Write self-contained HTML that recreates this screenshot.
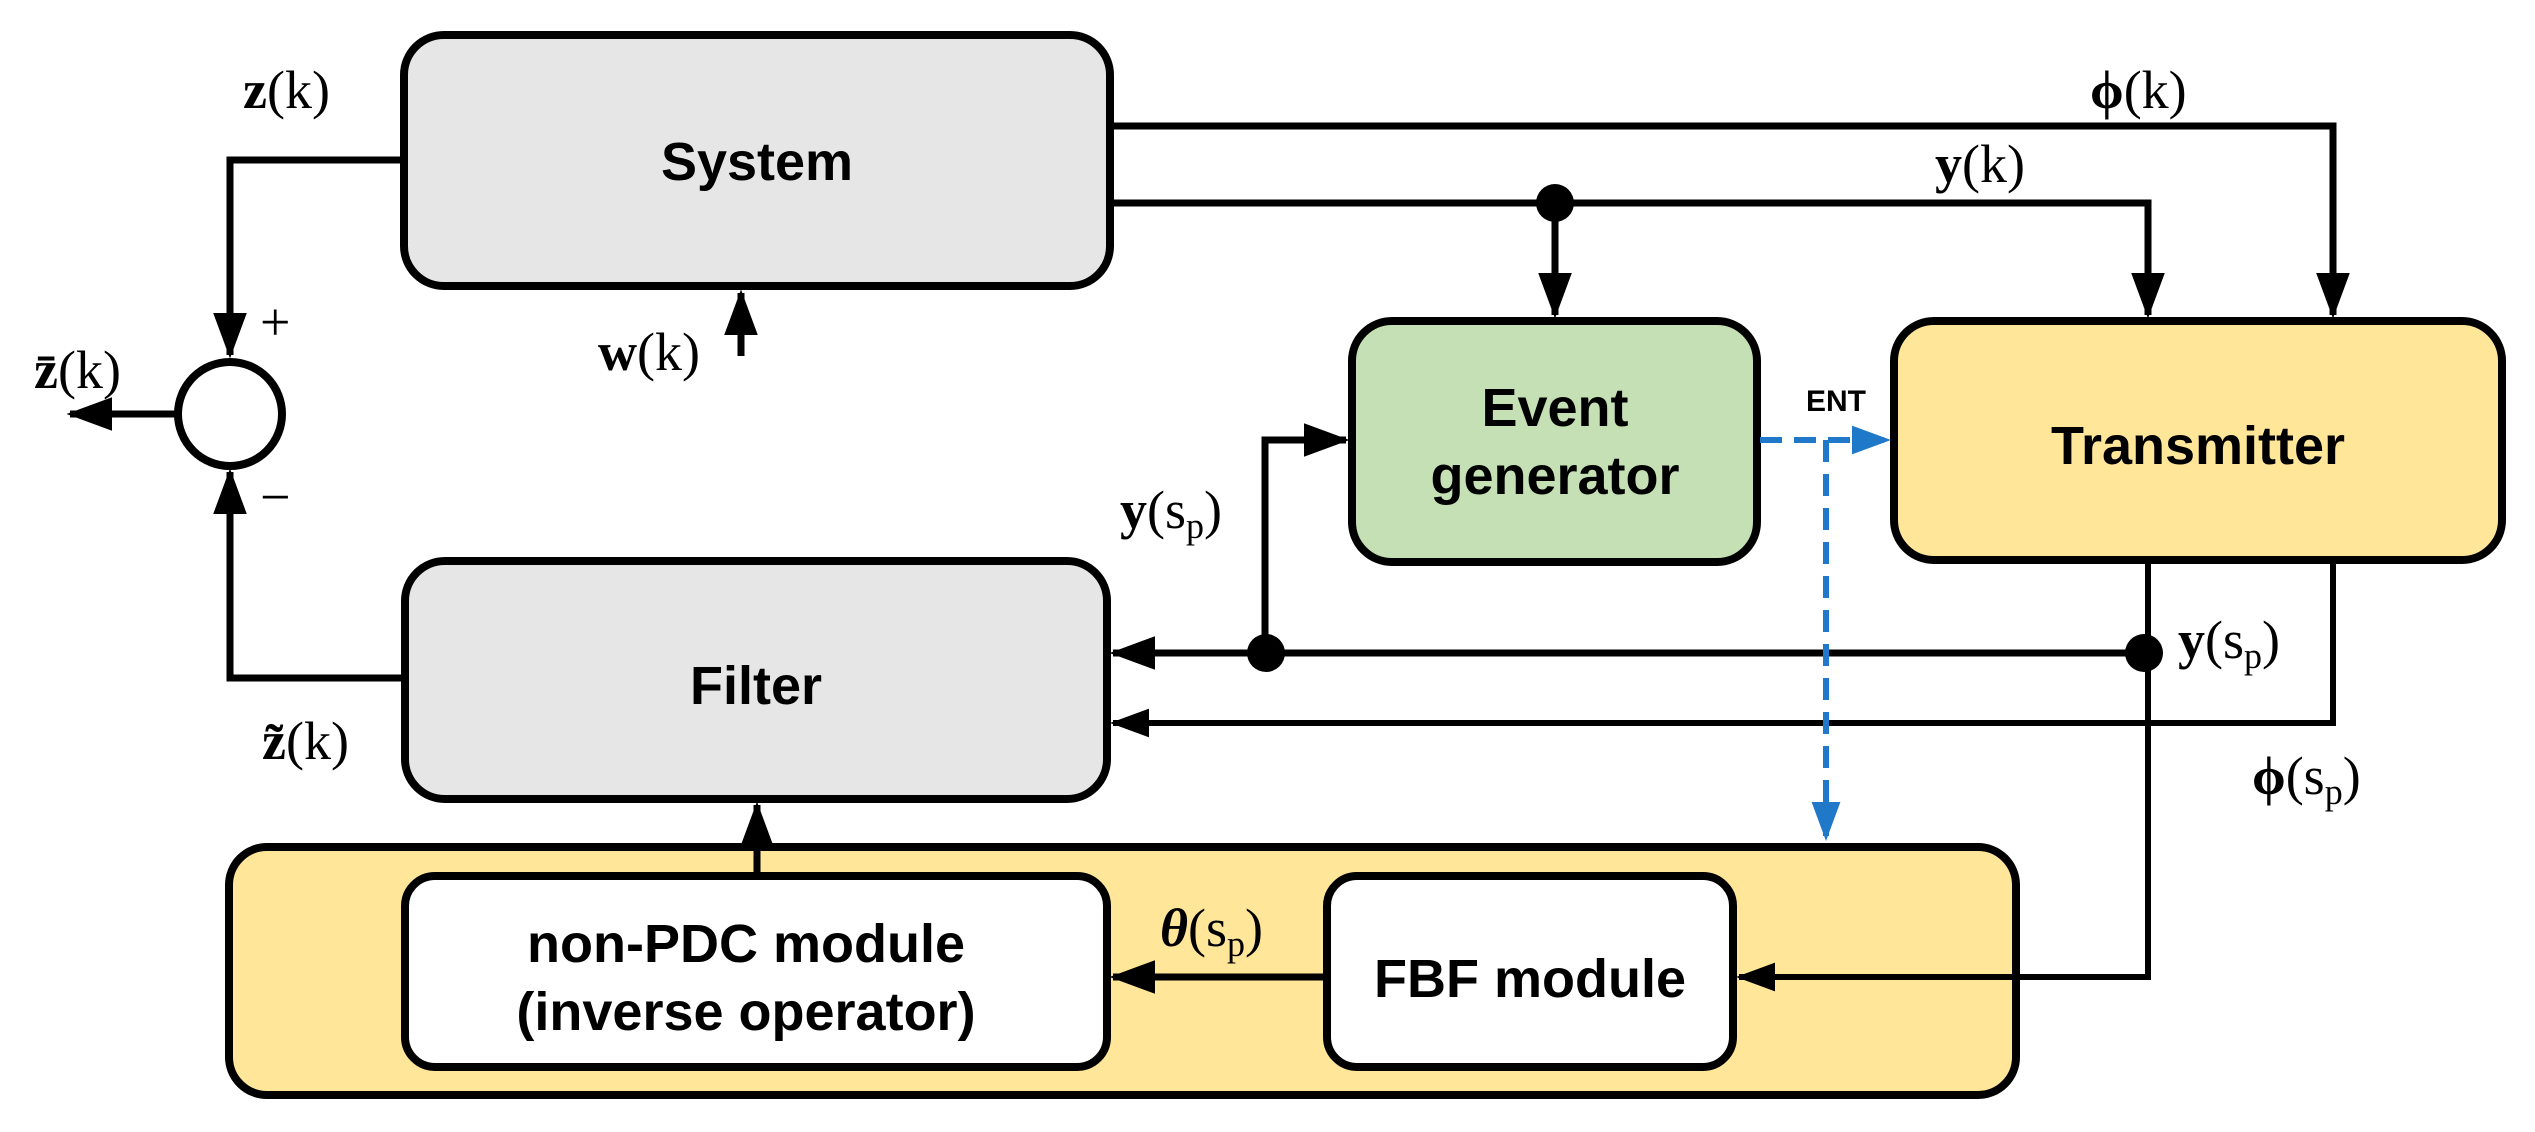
<!DOCTYPE html>
<html><head><meta charset="utf-8"><style>
html,body{margin:0;padding:0;background:#fff;}
svg{display:block;}
.bx{font-family:"Liberation Sans",sans-serif;font-weight:bold;font-size:54px;fill:#000;}
.m{font-family:"Liberation Serif",serif;font-size:54px;fill:#000;}
</style></head><body>
<svg width="2535" height="1132" viewBox="0 0 2535 1132" xmlns="http://www.w3.org/2000/svg">
<defs>
<marker id="a" markerWidth="7" markerHeight="6" refX="6" refY="3" orient="auto" markerUnits="strokeWidth"><path d="M0,0.6 L6.5,3 L0,5.4 Z" fill="#000"/></marker>
<marker id="ab" markerWidth="7" markerHeight="6" refX="6" refY="3" orient="auto" markerUnits="strokeWidth"><path d="M0,0.6 L6.5,3 L0,5.4 Z" fill="#1f78c8"/></marker>
</defs>
<rect x="404" y="35" width="706" height="251" rx="40" fill="#e7e6e6" stroke="#000" stroke-width="8"/>
<rect x="405" y="561" width="702" height="238" rx="40" fill="#e7e6e6" stroke="#000" stroke-width="8"/>
<rect x="1352" y="321" width="405" height="241" rx="40" fill="#c5e0b4" stroke="#000" stroke-width="8"/>
<rect x="1894" y="321" width="608" height="239" rx="40" fill="#ffe699" stroke="#000" stroke-width="8"/>
<rect x="229" y="847" width="1787" height="248" rx="38" fill="#ffe699" stroke="#000" stroke-width="8"/>
<rect x="405" y="876" width="702" height="191" rx="30" fill="#fff" stroke="#000" stroke-width="8"/>
<rect x="1327" y="876" width="406" height="191" rx="30" fill="#fff" stroke="#000" stroke-width="8"/>
<text class="bx" x="757" y="180" text-anchor="middle">System</text>
<text class="bx" x="756" y="704" text-anchor="middle">Filter</text>
<text class="bx" x="1555" y="426" text-anchor="middle">Event</text>
<text class="bx" x="1555" y="494" text-anchor="middle">generator</text>
<text class="bx" x="2198" y="464" text-anchor="middle">Transmitter</text>
<text class="bx" x="746" y="962" text-anchor="middle">non-PDC module</text>
<text class="bx" x="746" y="1030" text-anchor="middle">(inverse operator)</text>
<text class="bx" x="1530" y="997" text-anchor="middle">FBF module</text>
<text x="1836" y="411" text-anchor="middle" style="font-family:'Liberation Sans',sans-serif;font-weight:bold;font-size:30px">ENT</text>
<g fill="none" stroke="#000" stroke-width="7">
<path d="M404,160 H230 V355" marker-end="url(#a)"/>
<path d="M405,678 H230 V472" marker-end="url(#a)"/>
<path d="M178,414 H70" marker-end="url(#a)"/>
<path d="M741,356 V293" marker-end="url(#a)"/>
<path d="M1110,126 H2333 V315" marker-end="url(#a)"/>
<path d="M1110,203 H2148 V315" marker-end="url(#a)"/>
<path d="M1555,203 V315" marker-end="url(#a)"/>
<path d="M1265,655 V440 H1346" marker-end="url(#a)"/>
<path d="M2144,653 H1113" marker-end="url(#a)"/>
<path d="M757,873 V805" marker-end="url(#a)"/>
<path d="M1327,977 H1113" marker-end="url(#a)"/>
</g>
<g fill="none" stroke="#000" stroke-width="6">
<path d="M2148,560 V977 H1739" marker-end="url(#a)"/>
<path d="M2333,560 V723 H1113" marker-end="url(#a)"/>
</g>
<circle cx="230" cy="414" r="52" fill="#fff" stroke="#000" stroke-width="8"/>
<circle cx="1555" cy="203" r="19" fill="#000"/>
<circle cx="1266" cy="653" r="19" fill="#000"/>
<circle cx="2144" cy="653" r="19" fill="#000"/>
<g fill="none" stroke="#1f78c8" stroke-width="6" stroke-dasharray="22,12">
<path d="M1760,440 H1888" marker-end="url(#ab)"/>
<path d="M1826,440 V838" marker-end="url(#ab)"/>
</g>
<text class="m" x="243" y="108"><tspan font-weight="bold">z</tspan>(k)</text>
<text class="m" x="34" y="388"><tspan font-weight="bold">z̄</tspan>(k)</text>
<text class="m" x="260" y="340" font-size="44">+</text>
<text class="m" x="260" y="515" font-size="44">−</text>
<text class="m" x="598" y="370"><tspan font-weight="bold">w</tspan>(k)</text>
<text class="m" x="2090" y="108"><tspan font-weight="bold">ϕ</tspan>(k)</text>
<text class="m" x="1935" y="182"><tspan font-weight="bold">y</tspan>(k)</text>
<text class="m" x="1120" y="528"><tspan font-weight="bold">y</tspan>(s<tspan font-size="36" dy="10">p</tspan><tspan dy="-10">)</tspan></text>
<text class="m" x="2178" y="658"><tspan font-weight="bold">y</tspan>(s<tspan font-size="36" dy="10">p</tspan><tspan dy="-10">)</tspan></text>
<text class="m" x="2252" y="794"><tspan font-weight="bold">ϕ</tspan>(s<tspan font-size="36" dy="10">p</tspan><tspan dy="-10">)</tspan></text>
<text class="m" x="262" y="759"><tspan font-weight="bold">z̃</tspan>(k)</text>
<text class="m" x="1160" y="946"><tspan font-weight="bold" font-style="italic">θ</tspan>(s<tspan font-size="36" dy="10">p</tspan><tspan dy="-10">)</tspan></text>
</svg>
</body></html>
